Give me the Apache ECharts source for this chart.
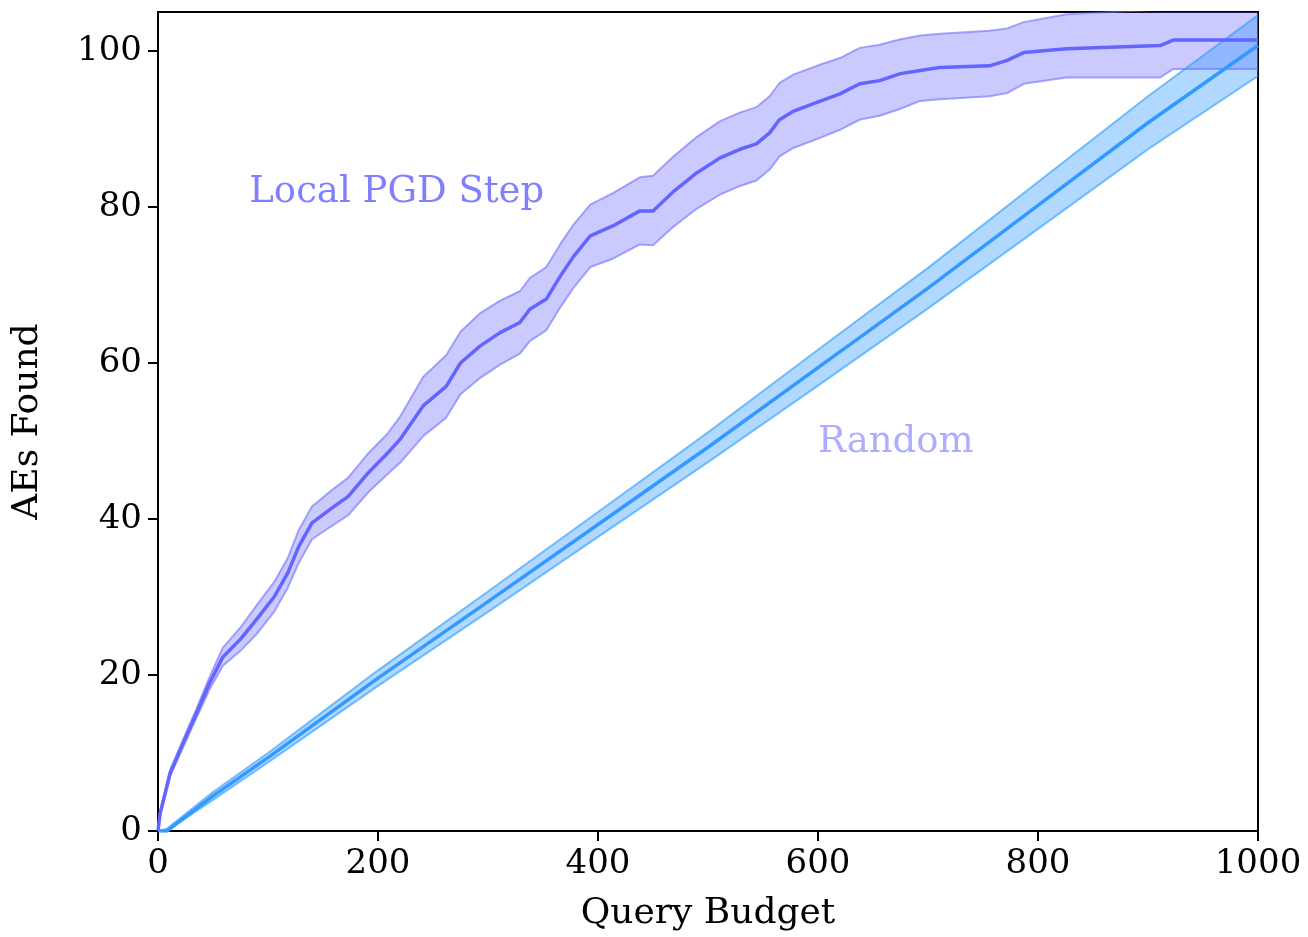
<!DOCTYPE html>
<html>
<head>
<meta charset="utf-8">
<script src="https://cdn.jsdelivr.net/npm/echarts@6/dist/echarts.min.js"></script>
<style>
  html, body { margin: 0; padding: 0; background: #fff; }
  #chart { width: 1308px; height: 937px; }
</style>
</head>
<body>
<div id="chart"></div>
<script>
// Local PGD Step: mean and band edges
var pgdX     = [0, 2, 11, 23, 35, 47, 59, 75, 90, 106, 118, 128, 140, 158, 173, 191, 209, 220, 241, 262, 275, 293, 311, 329, 338, 353, 366, 378, 393, 414, 438, 450, 468, 490, 511, 529, 544, 556, 565, 578, 599, 620, 638, 656, 675, 693, 711, 756, 772, 787, 826, 911, 923, 1000];
var pgdMean  = [0, 2.3, 7.4, 11.3, 15.1, 19.0, 22.3, 24.6, 27.2, 30.1, 33.1, 36.5, 39.5, 41.4, 42.9, 45.9, 48.5, 50.2, 54.5, 57.0, 60.0, 62.2, 63.9, 65.2, 66.9, 68.2, 71.2, 73.7, 76.3, 77.6, 79.5, 79.5, 81.9, 84.4, 86.3, 87.4, 88.1, 89.5, 91.2, 92.3, 93.4, 94.5, 95.8, 96.2, 97.1, 97.5, 97.9, 98.1, 98.8, 99.8, 100.3, 100.7, 101.4, 101.4];
var pgdLow   = [0, 2.0, 7.0, 10.8, 14.5, 18.2, 21.2, 23.1, 25.3, 28.2, 31.2, 34.4, 37.4, 39.1, 40.5, 43.4, 45.8, 47.2, 50.6, 53.0, 56.0, 58.1, 59.8, 61.2, 62.8, 64.2, 67.2, 69.7, 72.3, 73.4, 75.2, 75.1, 77.4, 79.8, 81.6, 82.7, 83.4, 84.8, 86.5, 87.6, 88.7, 89.9, 91.2, 91.7, 92.6, 93.6, 93.8, 94.2, 94.6, 95.8, 96.6, 96.6, 97.7, 97.7];
var pgdHigh  = [0, 2.6, 7.8, 11.8, 15.7, 19.8, 23.5, 26.1, 29.0, 32.0, 35.0, 38.6, 41.6, 43.7, 45.3, 48.4, 51.0, 53.1, 58.2, 61.0, 64.0, 66.4, 68.0, 69.2, 70.9, 72.3, 75.3, 77.8, 80.3, 81.8, 83.8, 84.0, 86.4, 89.0, 91.0, 92.1, 92.8, 94.2, 95.9, 97.0, 98.1, 99.1, 100.4, 100.8, 101.5, 102.0, 102.2, 102.6, 102.9, 103.7, 104.7, 105.3, 105.6, 105.6];

// Random
var rndX     = [0, 8, 50, 100, 150, 200, 300, 400, 500, 600, 700, 800, 900, 1000];
var rndMean  = [0, 0, 4.5, 9.4, 14.5, 19.6, 29.4, 39.3, 49.2, 59.4, 69.6, 80.2, 90.8, 100.7];
var rndLow   = [0, 0, 4.0, 8.8, 13.7, 18.6, 28.1, 37.7, 47.3, 57.1, 67.0, 77.2, 87.4, 96.8];
var rndHigh  = [0, 0.3, 5.0, 10.0, 15.3, 20.6, 30.7, 40.9, 51.1, 61.7, 72.2, 83.2, 94.2, 104.6];

var xTicks = [0, 200, 400, 600, 800, 1000];
var yTicks = [0, 20, 40, 60, 80, 100];

// text labels placed in data coordinates
var notes = [
  { name: 'Local PGD Step', x: 83, y: 81.9, color: '#6060ff' },
  { name: 'Random', x: 600, y: 49.8, color: '#9999ff' }
];

var FONT = 'DejaVu Serif';

function pairs(xs, ys) {
  var out = [];
  for (var i = 0; i < xs.length; i++) out.push([xs[i], ys[i]]);
  return out;
}

// filled band between lo and hi, drawn with the axes' own coord()
function bandFill(xs, lo, hi, fill) {
  return {
    type: 'custom', clip: true, silent: true, z: 1,
    data: [[xs[0], lo[0]]],
    encode: { x: 0, y: 1 },
    renderItem: function (params, api) {
      var pts = [];
      for (var i = 0; i < xs.length; i++) pts.push(api.coord([xs[i], hi[i]]));
      for (var j = xs.length - 1; j >= 0; j--) pts.push(api.coord([xs[j], lo[j]]));
      var cs = params.coordSys;
      pts = echarts.graphic.clipPointsByRect(pts, { x: cs.x, y: cs.y, width: cs.width, height: cs.height });
      return { type: 'polygon', shape: { points: pts }, style: { fill: fill, stroke: null } };
    }
  };
}

function edge(xs, ys, color) {
  return {
    type: 'line', data: pairs(xs, ys), symbol: 'none', silent: true, z: 2,
    lineStyle: { color: color, width: 2 }
  };
}

var chart = echarts.init(document.getElementById('chart'));

var series = [
  bandFill(pgdX, pgdLow, pgdHigh, 'rgba(102,102,255,0.35)'),
  edge(pgdX, pgdLow, 'rgba(110,110,255,0.6)'),
  edge(pgdX, pgdHigh, 'rgba(110,110,255,0.6)'),
  {
    name: 'Local PGD Step', type: 'line', data: pairs(pgdX, pgdMean),
    symbol: 'none', lineStyle: { color: '#6464ff', width: 3.5 }, z: 3
  },
  bandFill(rndX, rndLow, rndHigh, 'rgba(51,153,255,0.38)'),
  edge(rndX, rndLow, 'rgba(51,160,255,0.65)'),
  edge(rndX, rndHigh, 'rgba(51,160,255,0.65)'),
  {
    name: 'Random', type: 'line', data: pairs(rndX, rndMean),
    symbol: 'none', lineStyle: { color: '#3399ff', width: 3.5 }, z: 3
  },
  {
    type: 'scatter', symbolSize: 0, z: 5, silent: true,
    data: notes.map(function (n) {
      return { value: [n.x, n.y], name: n.name, label: { color: n.color } };
    }),
    label: {
      show: true, position: 'right', distance: 0,
      formatter: '{b}', fontFamily: FONT, fontSize: 37
    }
  }
];

var option = {
  animation: false,
  backgroundColor: '#fff',
  grid: {
    left: 158, right: 50, top: 12, bottom: 106,
    show: true, borderColor: '#000', borderWidth: 2, backgroundColor: 'transparent'
  },
  xAxis: {
    type: 'value', min: 0, max: 1000, interval: 200,
    name: 'Query Budget', nameLocation: 'middle', nameGap: 65,
    nameTextStyle: { fontFamily: FONT, fontSize: 36, color: '#000' },
    axisLine: { show: true, onZero: false, lineStyle: { color: '#000', width: 2 } },
    axisTick: { show: true, length: 10, lineStyle: { color: '#000', width: 2 } },
    axisLabel: {
      fontFamily: FONT, fontSize: 34, color: '#000', margin: 16,
      formatter: function (v) { return xTicks.indexOf(v) >= 0 ? String(v) : ''; }
    },
    splitLine: { show: false }
  },
  yAxis: {
    type: 'value', min: 0, max: 105, interval: 20,
    name: 'AEs Found', nameLocation: 'middle', nameGap: 112, nameRotate: 90,
    nameTextStyle: { fontFamily: FONT, fontSize: 36, color: '#000' },
    axisLine: { show: true, lineStyle: { color: '#000', width: 2 } },
    axisTick: { show: true, length: 10, lineStyle: { color: '#000', width: 2 } },
    axisLabel: {
      fontFamily: FONT, fontSize: 34, color: '#000', margin: 16,
      showMaxLabel: false,
      formatter: function (v) { return yTicks.indexOf(v) >= 0 ? String(v) : ''; }
    },
    splitLine: { show: false }
  },
  series: series
};

chart.setOption(option);
</script>
</body>
</html>
